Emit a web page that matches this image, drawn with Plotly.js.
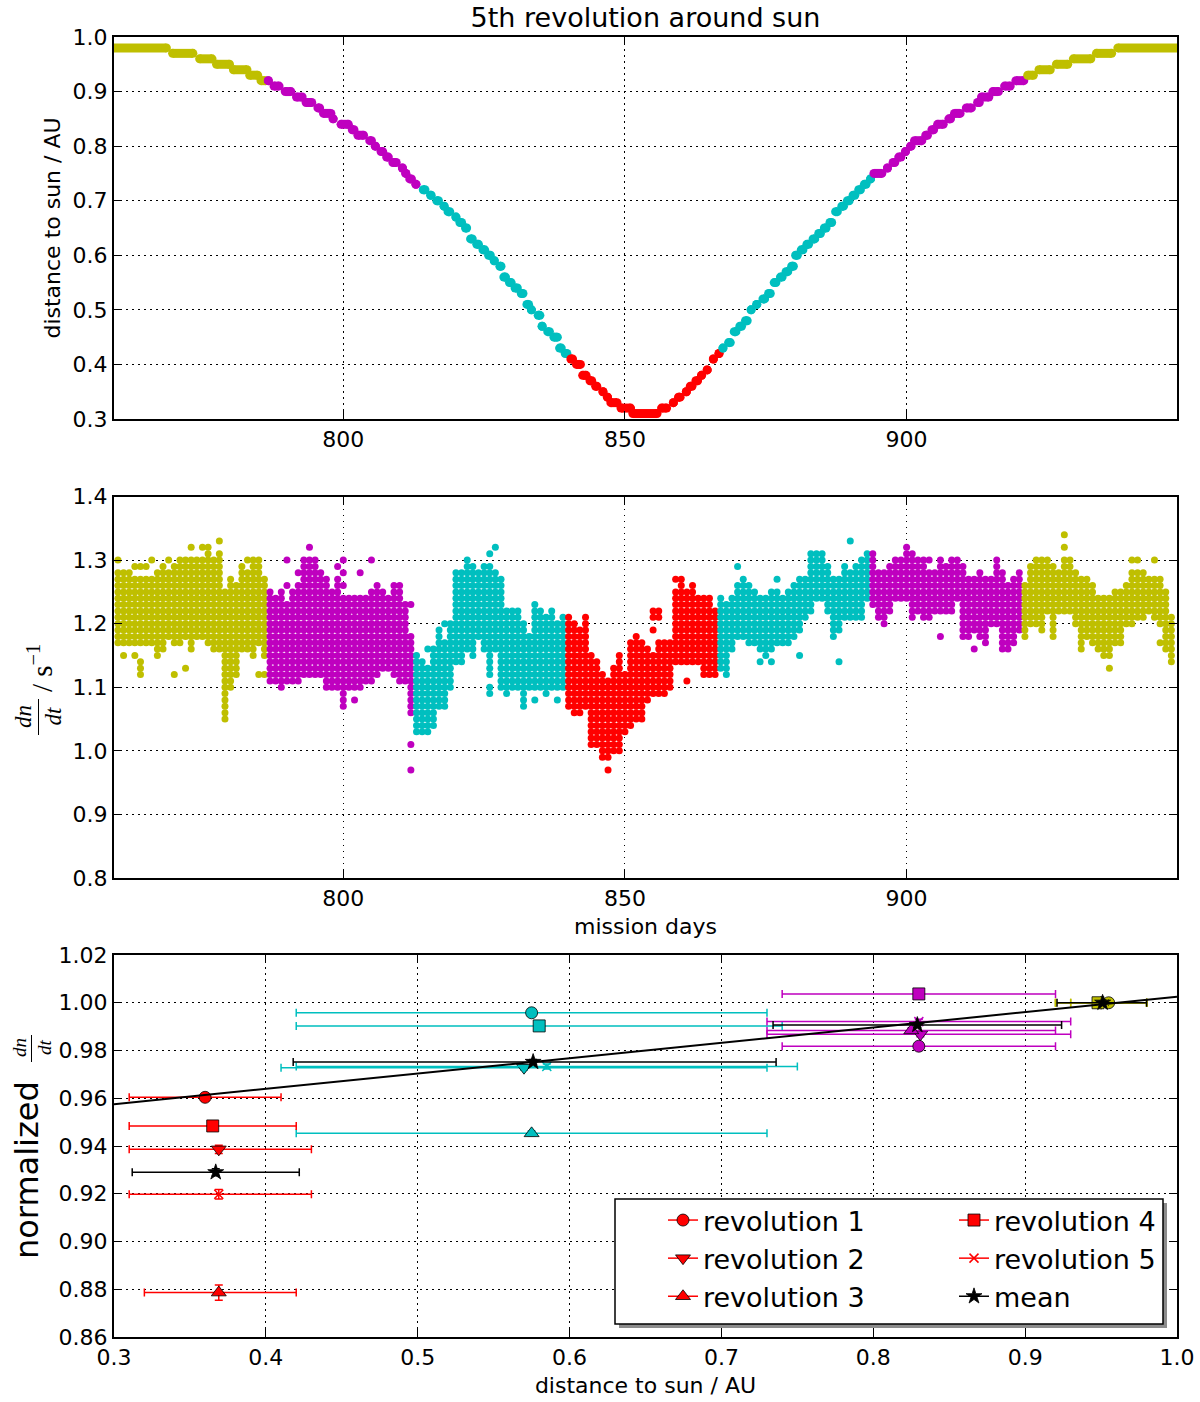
<!DOCTYPE html>
<html>
<head>
<meta charset="utf-8">
<script src="https://cdn.plot.ly/plotly-3.0.1.min.js"></script>
<style>
    body { margin: 0; background: #ffffff; }
    #chartDiv { width: 1200px; height: 1402px; }
</style>
</head>
<body>
<div id="chartDiv"></div>
<script>
"use strict";

// colour segments along the orbit (mission days where the colour changes)
const segmentBounds = [786.4, 813.0, 839.9, 866.9, 894.0, 920.9];
const segmentColors = ['#bfbf00', '#bf00bf', '#00bfbf', '#ff0000', '#00bfbf', '#bf00bf', '#bfbf00'];

// top panel: distance to sun, read as flat steps (level, first day, last day)
const stepDist = [0.98, 0.97, 0.96, 0.95, 0.94, 0.93, 0.92, 0.92, 0.91, 0.90, 0.89, 0.88, 0.87, 0.86, 0.85, 0.84, 0.83, 0.82, 0.81, 0.80,
    0.79, 0.78, 0.77, 0.76, 0.75, 0.74, 0.73, 0.72, 0.71, 0.70, 0.69, 0.68, 0.67, 0.66, 0.65, 0.63, 0.62, 0.61, 0.60, 0.59,
    0.58, 0.56, 0.55, 0.54, 0.53, 0.51, 0.50, 0.49, 0.47, 0.46, 0.45, 0.43, 0.42, 0.41, 0.40, 0.38, 0.37, 0.36, 0.35, 0.34,
    0.33, 0.32, 0.31, 0.32, 0.33, 0.34, 0.35, 0.36, 0.37, 0.38, 0.39, 0.41, 0.42, 0.43, 0.44, 0.46, 0.47, 0.48, 0.50, 0.51,
    0.52, 0.53, 0.55, 0.56, 0.57, 0.58, 0.60, 0.61, 0.62, 0.63, 0.64, 0.65, 0.66, 0.68, 0.69, 0.70, 0.71, 0.72, 0.73, 0.74,
    0.75, 0.76, 0.77, 0.78, 0.79, 0.80, 0.81, 0.82, 0.83, 0.84, 0.85, 0.86, 0.87, 0.88, 0.89, 0.90, 0.91, 0.92, 0.93, 0.94,
    0.95, 0.96, 0.97, 0.98];
const stepFrom = [758.5, 769.7, 774.5, 777.5, 780.5, 783.4, 785.4, 786.7, 787.7, 789.7, 791.7, 793.4, 795.5, 796.5, 798.2, 799.6, 801.6, 802.6, 804.7, 805.7,
    806.7, 807.7, 808.8, 810.5, 811.1, 811.8, 812.9, 814.2, 815.5, 816.6, 817.9, 818.6, 820.0, 820.7, 821.7, 822.6, 823.7, 824.8, 825.8, 826.8,
    827.8, 828.5, 829.5, 830.5, 831.6, 832.6, 833.4, 834.6, 835.3, 836.3, 837.4, 838.4, 839.4, 840.4, 841.4, 842.5, 843.8, 844.8, 846.1, 846.9,
    847.5, 849.3, 851.4, 856.5, 858.6, 859.5, 860.9, 861.6, 862.6, 863.6, 864.6, 865.7, 866.7, 867.4, 868.4, 869.4, 870.4, 871.4, 872.4, 873.4,
    874.5, 875.5, 876.5, 877.6, 878.6, 879.6, 880.3, 881.3, 882.3, 883.4, 884.4, 885.4, 886.4, 887.4, 888.5, 889.5, 890.5, 891.5, 892.5, 893.6,
    894.2, 896.6, 897.6, 898.6, 899.8, 900.7, 901.4, 903.4, 904.5, 905.5, 907.5, 908.5, 910.6, 912.6, 913.3, 915.3, 917.4, 919.4, 921.5, 923.5,
    926.6, 929.6, 933.7, 937.5];
const stepTo = [768.6, 773.3, 776.7, 779.8, 782.9, 784.8, 786.2, 786.7, 788.6, 790.7, 792.7, 794.4, 795.8, 797.8, 798.2, 800.9, 801.9, 803.6, 805.0, 805.7,
    807.0, 808.0, 809.4, 810.5, 811.1, 812.1, 812.9, 814.5, 815.6, 816.9, 817.9, 818.9, 820.0, 821.0, 821.9, 822.9, 824.0, 825.1, 826.1, 826.8,
    828.0, 828.8, 829.8, 830.9, 831.9, 832.9, 833.4, 834.9, 835.3, 836.6, 838.0, 838.7, 839.7, 840.7, 842.1, 843.1, 844.1, 845.0, 846.1, 846.9,
    848.6, 851.0, 855.7, 857.4, 858.6, 859.8, 860.9, 861.9, 862.9, 863.6, 864.6, 865.7, 866.7, 867.4, 868.7, 869.7, 870.7, 871.7, 872.4, 873.4,
    874.8, 875.8, 876.8, 877.9, 878.9, 879.9, 880.6, 881.6, 882.6, 883.7, 884.7, 885.7, 886.7, 887.7, 888.8, 889.8, 890.8, 891.8, 892.8, 893.6,
    895.6, 896.6, 897.9, 899.0, 899.8, 900.8, 902.7, 903.7, 904.8, 906.5, 907.8, 909.5, 911.5, 912.9, 914.6, 916.3, 918.4, 920.8, 922.5, 925.5,
    928.6, 932.7, 936.4, 949.0];

// middle panel: count rate dn/dt, levels seen on each mission day (in 0.01 s^-1)
const rateDays = [760, 761, 762, 763, 764, 765, 766, 767, 768, 769, 770, 771, 772, 773, 774, 775, 776, 777, 778, 779,
    780, 781, 782, 783, 784, 785, 786, 787, 788, 789, 790, 791, 792, 793, 794, 795, 796, 797, 798, 799,
    800, 801, 802, 803, 804, 805, 806, 807, 808, 809, 810, 811, 812, 813, 814, 815, 816, 817, 818, 819,
    820, 821, 822, 823, 824, 825, 826, 827, 828, 829, 830, 831, 832, 833, 834, 835, 836, 837, 838, 839,
    840, 841, 842, 843, 844, 845, 846, 847, 848, 849, 850, 851, 852, 853, 854, 855, 856, 857, 858, 859,
    860, 861, 862, 863, 864, 865, 866, 867, 868, 869, 870, 871, 872, 873, 874, 875, 876, 877, 878, 879,
    880, 881, 882, 883, 884, 885, 886, 887, 888, 889, 890, 891, 892, 893, 894, 895, 896, 897, 898, 899,
    900, 901, 902, 903, 904, 905, 906, 907, 908, 909, 910, 911, 912, 913, 914, 915, 916, 917, 918, 919,
    920, 921, 922, 923, 924, 925, 926, 927, 928, 929, 930, 931, 932, 933, 934, 935, 936, 937, 938, 939,
    940, 941, 942, 943, 944, 945, 946, 947];
const rateLevels = [
    [117, 118, 119, 120, 121, 122, 123, 124, 125, 126, 127, 128, 130],
    [115, 117, 118, 119, 120, 121, 122, 123, 124, 125, 126, 127, 128],
    [117, 118, 119, 120, 121, 122, 123, 124, 125, 126, 127, 128],
    [115, 117, 118, 119, 120, 121, 122, 123, 124, 125, 126, 127, 129],
    [112, 113, 114, 117, 118, 119, 120, 121, 122, 123, 124, 125, 126, 127, 129],
    [117, 118, 119, 120, 121, 122, 123, 124, 125, 126, 127, 129],
    [117, 118, 119, 120, 121, 122, 123, 124, 125, 126, 127, 130],
    [115, 116, 117, 118, 119, 120, 121, 122, 123, 124, 125, 126, 127, 128],
    [116, 117, 118, 119, 120, 121, 122, 123, 124, 125, 126, 127, 128, 129],
    [118, 119, 120, 121, 122, 123, 124, 125, 126, 127, 128, 130],
    [112, 117, 118, 119, 120, 121, 122, 123, 124, 125, 126, 127, 128, 129],
    [117, 118, 119, 120, 121, 122, 123, 124, 125, 126, 127, 128, 129, 130],
    [113, 118, 119, 120, 121, 122, 123, 124, 125, 126, 127, 128, 129, 130],
    [116, 117, 118, 119, 120, 121, 122, 123, 124, 125, 126, 127, 128, 129, 130, 132],
    [118, 119, 120, 121, 122, 123, 124, 125, 126, 127, 128, 129, 130],
    [118, 119, 120, 121, 122, 123, 124, 125, 126, 127, 128, 129, 130, 132],
    [117, 118, 119, 120, 121, 122, 123, 124, 125, 126, 127, 128, 129, 130, 131, 132],
    [116, 117, 118, 119, 120, 121, 122, 123, 124, 125, 126, 127, 128, 129, 130],
    [116, 117, 118, 119, 120, 121, 122, 123, 124, 125, 126, 127, 128, 129, 130, 131, 133],
    [105, 106, 107, 108, 109, 110, 111, 112, 113, 114, 115, 116, 117, 118, 119, 120, 121, 122, 123, 124, 125],
    [110, 111, 112, 113, 114, 115, 116, 117, 118, 119, 120, 121, 122, 123, 124, 125, 126, 127],
    [112, 113, 114, 115, 116, 117, 118, 119, 120, 121, 122, 123, 124, 125, 126],
    [116, 117, 118, 119, 120, 121, 122, 123, 124, 125, 126, 127, 128, 129],
    [116, 117, 118, 119, 120, 121, 122, 123, 124, 125, 126, 127, 128, 130],
    [115, 116, 117, 118, 119, 120, 121, 122, 123, 124, 125, 126, 127, 128, 129, 130],
    [112, 117, 118, 119, 120, 121, 122, 123, 124, 125, 126, 127, 128, 129, 130],
    [112, 115, 116, 117, 118, 119, 120, 121, 122, 123, 124, 125, 126, 127],
    [111, 112, 113, 114, 115, 116, 117, 118, 119, 120, 121, 122, 123, 124, 125],
    [111, 112, 113, 114, 115, 116, 117, 118, 119, 120, 121, 122, 123, 124],
    [110, 111, 112, 113, 114, 115, 116, 117, 118, 119, 120, 121, 122, 123, 124, 125],
    [111, 112, 113, 114, 115, 116, 117, 118, 119, 120, 121, 122, 123, 126, 130],
    [111, 112, 113, 114, 115, 116, 117, 118, 119, 120, 121, 122, 123, 124, 125],
    [111, 112, 113, 114, 115, 116, 117, 118, 119, 120, 121, 122, 123, 124, 125, 126, 128],
    [112, 113, 114, 115, 116, 117, 118, 119, 120, 121, 122, 123, 124, 125, 126, 127, 128, 129, 130],
    [112, 113, 114, 115, 116, 117, 118, 119, 120, 121, 122, 123, 124, 125, 126, 127, 128, 129, 130, 132],
    [112, 113, 114, 115, 116, 117, 118, 119, 120, 121, 122, 123, 124, 125, 126, 127, 128, 129, 130],
    [112, 113, 114, 115, 116, 117, 118, 119, 120, 121, 122, 123, 124, 125, 126, 127, 128],
    [110, 111, 112, 113, 114, 115, 116, 117, 118, 119, 120, 121, 122, 123, 124, 125, 126, 127],
    [110, 111, 112, 113, 114, 115, 116, 117, 118, 119, 120, 121, 122, 123, 124, 125],
    [110, 111, 112, 113, 114, 115, 116, 117, 118, 119, 120, 121, 122, 123, 124, 125, 126, 127, 129],
    [107, 108, 109, 110, 111, 112, 113, 114, 115, 116, 117, 118, 119, 120, 121, 122, 123, 124, 126, 128, 130],
    [110, 111, 112, 113, 114, 115, 116, 117, 118, 119, 120, 121, 122, 123, 124],
    [108, 110, 111, 112, 113, 114, 115, 116, 117, 118, 119, 120, 121, 122, 123, 124],
    [110, 111, 112, 113, 114, 115, 116, 117, 118, 119, 120, 121, 122, 123, 124, 128],
    [111, 112, 113, 114, 115, 116, 117, 118, 119, 120, 121, 122, 123, 124],
    [111, 112, 113, 114, 115, 116, 117, 118, 119, 120, 121, 122, 123, 124, 125, 130],
    [112, 113, 114, 115, 116, 117, 118, 119, 120, 121, 122, 123, 124, 125, 126],
    [113, 114, 115, 116, 117, 118, 119, 120, 121, 122, 123, 124, 125],
    [113, 114, 115, 116, 117, 118, 119, 120, 121, 122, 123, 124],
    [112, 113, 114, 115, 116, 117, 118, 119, 120, 121, 122, 123, 124, 125, 126],
    [111, 112, 113, 114, 115, 116, 117, 118, 119, 120, 121, 122, 123, 124, 125, 126],
    [111, 112, 113, 114, 115, 116, 117, 118, 119, 120, 121, 122, 123],
    [97, 101, 106, 107, 108, 109, 110, 111, 112, 113, 114, 115, 116, 117, 118, 123],
    [103, 104, 105, 106, 107, 108, 109, 110, 111, 112, 113, 114, 115],
    [103, 104, 105, 106, 107, 108, 109, 110, 111, 112, 113, 114],
    [103, 104, 105, 106, 107, 108, 109, 110, 111, 112, 113, 116],
    [104, 105, 106, 107, 108, 109, 110, 111, 112, 113, 114, 115, 116],
    [107, 108, 109, 110, 111, 112, 113, 114, 115, 116, 117, 118, 119],
    [107, 108, 109, 110, 111, 112, 113, 114, 115, 116, 117, 120],
    [110, 111, 112, 113, 114, 115, 116, 117, 118, 119, 120],
    [114, 115, 116, 117, 118, 119, 120, 121, 122, 123, 124, 125, 126, 127, 128],
    [114, 115, 116, 117, 118, 119, 120, 121, 122, 123, 124, 125, 126, 127, 128],
    [116, 117, 118, 119, 120, 121, 122, 123, 124, 125, 126, 127, 128, 129, 130],
    [115, 116, 117, 118, 119, 120, 121, 122, 123, 124, 125, 126, 127, 128, 129],
    [118, 119, 120, 121, 122, 123, 124, 125, 126, 127, 128],
    [116, 117, 118, 119, 120, 121, 122, 123, 124, 125, 126, 127, 128, 129],
    [109, 110, 112, 113, 114, 115, 116, 117, 118, 119, 120, 121, 122, 123, 124, 125, 126, 127, 128, 129, 131],
    [116, 117, 118, 119, 120, 121, 122, 123, 124, 125, 126, 127, 128, 132],
    [110, 111, 112, 113, 114, 115, 116, 117, 118, 119, 120, 121, 122, 123, 124, 125, 126, 127],
    [109, 110, 111, 112, 113, 114, 115, 116, 117, 118, 119, 120, 121, 122],
    [110, 111, 112, 113, 114, 115, 116, 117, 118, 119, 120, 121, 122],
    [110, 111, 112, 113, 114, 115, 116, 117, 118, 119, 120, 121, 122],
    [107, 108, 109, 110, 111, 112, 113, 114, 115, 116, 117, 118, 119, 120],
    [110, 111, 112, 113, 114, 115, 116, 117, 118],
    [108, 110, 111, 112, 113, 114, 115, 116, 117, 118, 119, 120, 121, 122, 123],
    [110, 111, 112, 113, 114, 115, 116, 117, 118, 119, 120, 121, 122],
    [109, 110, 111, 112, 113, 114, 115, 116, 117, 118, 119, 120, 121],
    [110, 111, 112, 113, 114, 115, 116, 117, 118, 119, 120, 121, 122],
    [108, 110, 111, 112, 113, 114, 115, 116, 117, 118, 119, 120],
    [110, 111, 112, 113, 114, 115, 116, 117, 118, 119, 120, 121],
    [107, 108, 109, 110, 111, 112, 113, 114, 115, 116, 117, 118, 119, 120, 121],
    [106, 107, 108, 109, 110, 111, 112, 113, 114, 115, 116, 117, 118, 119, 120],
    [106, 107, 108, 109, 110, 111, 112, 113, 114, 115, 116, 117, 118, 119],
    [107, 108, 109, 110, 111, 112, 113, 114, 115, 116, 117, 118, 119, 120, 121],
    [101, 102, 103, 104, 105, 106, 107, 108, 109, 110, 111, 112, 113, 114, 115],
    [101, 102, 103, 104, 105, 106, 107, 108, 109, 110, 111, 112, 113, 114],
    [99, 100, 101, 102, 103, 104, 105, 106, 107, 108, 109, 110, 111, 112],
    [97, 99, 100, 101, 102, 103, 104, 105, 106, 107, 108, 109, 110, 111],
    [100, 101, 102, 103, 104, 105, 106, 107, 108, 109, 110, 111, 112, 113],
    [100, 101, 102, 103, 104, 105, 106, 107, 108, 109, 110, 111, 112, 113, 114, 115],
    [103, 104, 105, 106, 107, 108, 109, 110, 111, 112],
    [104, 105, 106, 107, 108, 109, 110, 111, 112, 113, 114, 115, 116, 117],
    [105, 106, 107, 108, 109, 110, 111, 112, 113, 114, 115, 116, 117, 118],
    [105, 106, 107, 108, 109, 110, 111, 112, 113, 114, 115, 116, 117],
    [108, 109, 110, 111, 112, 113, 114, 115, 116],
    [109, 110, 111, 112, 113, 114, 115, 119, 121, 122],
    [109, 110, 111, 112, 113, 114, 115, 116, 117, 121, 122],
    [109, 110, 111, 112, 113, 114, 115, 116, 117],
    [110, 111, 112, 113, 114, 115, 116, 117],
    [114, 115, 116, 117, 118, 119, 120, 121, 122, 123, 124, 125, 127],
    [114, 115, 116, 117, 118, 119, 120, 121, 122, 123, 124, 125, 126, 127],
    [111, 114, 115, 116, 117, 118, 119, 120, 121, 122, 123, 124, 125],
    [114, 115, 116, 117, 118, 119, 120, 121, 122, 123, 124, 125, 126],
    [114, 115, 116, 117, 118, 119, 120, 121, 122, 123, 124],
    [112, 113, 114, 115, 116, 117, 118, 119, 120, 121, 122, 123, 124],
    [112, 113, 114, 115, 116, 117, 118, 119, 120, 121, 122, 123, 124],
    [112, 113, 114, 115, 116, 117, 118, 119, 120, 121, 122],
    [113, 114, 115, 116, 117, 118, 119, 120, 121, 122, 123, 124],
    [112, 113, 114, 115, 116, 117, 118, 119, 120, 121, 122, 123],
    [116, 117, 118, 119, 120, 121, 122, 123, 124],
    [118, 119, 120, 121, 122, 123, 124, 125, 126, 129],
    [118, 119, 120, 121, 122, 123, 124, 125, 126, 127],
    [117, 118, 119, 120, 121, 122, 123, 124, 125, 126],
    [117, 118, 119, 120, 121, 122, 123, 124, 125],
    [114, 116, 117, 118, 119, 120, 121, 122, 123, 124],
    [115, 116, 117, 118, 119, 120, 121, 122, 123, 124],
    [114, 116, 117, 118, 119, 120, 121, 122, 123, 124, 125],
    [117, 118, 119, 120, 121, 122, 123, 124, 125, 127],
    [117, 118, 119, 120, 121, 122, 123, 124],
    [117, 118, 119, 120, 121, 122, 123, 124, 125],
    [118, 119, 120, 121, 122, 123, 124, 125, 126],
    [115, 119, 120, 121, 122, 123, 124, 125, 126, 127],
    [121, 122, 123, 124, 125, 126, 127],
    [122, 123, 124, 125, 126, 127, 128, 129, 130, 131],
    [124, 125, 126, 127, 128, 129, 130, 131],
    [124, 125, 126, 127, 128, 129, 130, 131],
    [122, 123, 124, 125, 126, 127, 128, 129],
    [118, 119, 120, 121, 122, 123, 124, 125, 126, 127],
    [114, 119, 120, 121, 122, 123, 124, 125, 126, 127],
    [121, 122, 123, 124, 125, 126, 127, 128, 129],
    [121, 122, 123, 124, 125, 126, 127, 128, 133],
    [121, 122, 123, 124, 125, 126, 127, 128, 129],
    [121, 122, 123, 124, 125, 126, 127, 128, 129, 130],
    [124, 125, 126, 127, 128, 129, 130, 131],
    [123, 124, 125, 126, 127, 128, 129, 130, 131],
    [121, 122, 123, 124, 125, 126, 127, 128],
    [120, 121, 122, 123, 124, 125, 126, 127, 128],
    [122, 123, 124, 125, 126, 127, 128, 129],
    [124, 125, 126, 127, 128, 129, 130],
    [124, 125, 126, 127, 128, 129, 130],
    [124, 125, 126, 127, 128, 129, 130, 131, 132],
    [121, 122, 123, 124, 125, 126, 127, 128, 129, 130, 131],
    [122, 123, 124, 125, 126, 127, 128, 129, 130],
    [121, 122, 123, 124, 125, 126, 127, 128, 129, 130],
    [121, 122, 123, 124, 125, 126, 127, 128, 130],
    [122, 123, 124, 125, 126, 127, 128],
    [118, 122, 123, 124, 125, 126, 127, 128, 129, 130],
    [122, 123, 124, 125, 126, 127, 128, 129],
    [122, 123, 124, 125, 126, 127, 128, 129, 130],
    [124, 125, 126, 127, 128, 129, 130],
    [118, 119, 120, 121, 122, 123, 124, 125, 126, 127, 128, 129],
    [118, 119, 120, 121, 122, 123, 124, 125, 126, 127],
    [116, 119, 120, 121, 122, 123, 124, 125, 126, 127],
    [118, 119, 120, 121, 122, 123, 124, 125, 126, 127, 128],
    [117, 118, 119, 120, 121, 122, 123, 124, 125, 126, 127],
    [120, 121, 122, 123, 124, 125, 126, 127],
    [120, 121, 122, 123, 124, 125, 126, 127, 128, 129, 130],
    [116, 117, 118, 119, 120, 121, 122, 123, 124, 125, 126, 127, 128],
    [116, 117, 118, 119, 120, 121, 122, 123, 124, 125, 126],
    [117, 118, 119, 120, 121, 122, 123, 124, 125, 126, 127],
    [119, 120, 121, 122, 123, 124, 125, 126, 127, 128],
    [118, 119, 120, 121, 122, 123, 124, 125, 126],
    [120, 121, 122, 123, 124, 125, 126, 127, 128, 129],
    [120, 121, 122, 123, 124, 125, 126, 127, 128, 129, 130],
    [119, 120, 121, 122, 123, 124, 125, 126, 127, 128, 129, 130],
    [122, 123, 124, 125, 126, 127, 128, 129, 130],
    [118, 119, 120, 121, 122, 123, 124, 125, 126, 127, 128, 129],
    [122, 123, 124, 125, 126, 127, 128],
    [122, 123, 124, 125, 126, 127, 128, 129, 130, 132, 134],
    [122, 123, 124, 125, 126, 127, 128, 129, 130],
    [120, 121, 122, 123, 124, 125, 126, 127, 128],
    [116, 117, 118, 119, 120, 121, 122, 123, 124, 125, 126, 127],
    [118, 119, 120, 121, 122, 123, 124, 125, 126, 127],
    [117, 118, 119, 120, 121, 122, 123, 124, 125, 126],
    [116, 117, 118, 119, 120, 121, 122, 123, 124],
    [115, 116, 117, 118, 119, 120, 121, 122, 123, 124],
    [113, 115, 116, 117, 118, 119, 120, 121, 122, 123, 124],
    [117, 118, 119, 120, 121, 122, 123, 124, 125],
    [117, 118, 119, 120, 121, 122, 123, 124, 125],
    [120, 121, 122, 123, 124, 125, 126],
    [120, 121, 122, 123, 124, 125, 126, 127, 128, 130],
    [121, 122, 123, 124, 125, 126, 127, 128, 130],
    [121, 122, 123, 124, 125, 126, 127, 128],
    [122, 123, 124, 125, 126, 127],
    [121, 122, 123, 124, 125, 126, 127, 130],
    [117, 120, 121, 122, 123, 124, 125, 126, 127],
    [116, 117, 118, 119, 120, 121, 122, 123, 124, 125],
    [114, 115, 116, 117, 118, 119, 120, 121]
];

// bottom panel: normalized rate per distance bin (red, cyan, magenta, yellow bins)
const binColors = ['#ff0000', '#00bfbf', '#bf00bf', '#bfbf00'];
const revNames = ['revolution 1', 'revolution 2', 'revolution 3', 'revolution 4', 'revolution 5', 'mean'];
const revSymbols = ['circle', 'triangle-down', 'triangle-up', 'square', 'x-thin', 'star'];
const revDistance = [
    [0.360, 0.575, 0.830, 0.955],
    [0.369, 0.570, 0.831, 0.950],
    [0.369, 0.575, 0.825, 0.950],
    [0.365, 0.580, 0.830, 0.948],
    [0.369, 0.585, 0.830, 0.952],
    [0.367, 0.576, 0.829, 0.951]
];
const revDistanceLow = [
    [0.31, 0.42, 0.74, 0.92],
    [0.31, 0.41, 0.73, 0.93],
    [0.32, 0.42, 0.73, 0.92],
    [0.31, 0.42, 0.74, 0.92],
    [0.31, 0.42, 0.73, 0.93],
    [0.312, 0.418, 0.734, 0.921]
];
const revDistanceHigh = [
    [0.41, 0.73, 0.92, 0.98],
    [0.43, 0.73, 0.93, 0.98],
    [0.42, 0.73, 0.92, 0.98],
    [0.42, 0.74, 0.92, 0.98],
    [0.43, 0.75, 0.93, 0.98],
    [0.422, 0.736, 0.924, 0.980]
];
const revNormalized = [
    [0.9604, 0.9958, 0.9818, 1.0000],
    [0.9386, 0.9728, 0.9868, 1.0000],
    [0.8786, 0.9453, 0.9884, 1.0000],
    [0.9484, 0.9903, 1.0037, 1.0000],
    [0.9198, 0.9733, 0.9921, 1.0000],
    [0.9290, 0.9752, 0.9907, 1.0000]
];
const revNormalizedErr = [
    [0.0010, 0.0008, 0.0008, 0.0006],
    [0.0017, 0.0010, 0.0010, 0.0006],
    [0.0032, 0.0010, 0.0010, 0.0006],
    [0.0012, 0.0008, 0.0008, 0.0006],
    [0.0020, 0.0010, 0.0010, 0.0006],
    [0.0015, 0.0010, 0.0010, 0.0006]
];
// linear fit drawn across the panel
const fitDistance = [0.3, 1.0];
const fitNormalized = [0.9575, 1.0025];

// tick labels
const dayTicks = [800, 850, 900];
const distanceTicks = [0.3, 0.4, 0.5, 0.6, 0.7, 0.8, 0.9, 1.0];
const rateTicks = [0.8, 0.9, 1.0, 1.1, 1.2, 1.3, 1.4];
const normTicks = [0.86, 0.88, 0.90, 0.92, 0.94, 0.96, 0.98, 1.00, 1.02];

const plotLeft = 114, plotTop = 37, plotWidth = 1063, plotHeight = 1300;
function paperX(px) { return (px - plotLeft) / plotWidth; }
function paperY(py) { return (plotTop + plotHeight - py) / plotHeight; }

function segmentOf(day) {
    var i = 0;
    while (i < segmentBounds.length && day >= segmentBounds[i]) { i++; }
    return i;
}

function markerSize(symbol) {
    if (symbol === 'x-thin') { return 9; }
    if (symbol === 'star') { return 12; }
    if (symbol.indexOf('triangle') === 0) { return 13; }
    return 12;
}

var traces = [];

// top panel
segmentColors.forEach(function (color, segment) {
    var x = [], y = [];
    for (var i = 0; i < stepDist.length; i++) {
        if (segmentOf((stepFrom[i] + stepTo[i]) / 2) !== segment) { continue; }
        x.push(stepFrom[i], stepTo[i], null);
        y.push(stepDist[i], stepDist[i], null);
    }
    traces.push({
        x: x, y: y, xaxis: 'x', yaxis: 'y', type: 'scatter', mode: 'lines+markers',
        line: { color: color, width: 9 }, marker: { color: color, size: 9 },
        showlegend: false, hoverinfo: 'skip'
    });
});

// middle panel
segmentColors.forEach(function (color, segment) {
    var x = [], y = [];
    for (var i = 0; i < rateDays.length; i++) {
        if (segmentOf(rateDays[i]) !== segment) { continue; }
        rateLevels[i].forEach(function (level) {
            x.push(rateDays[i]);
            y.push(level / 100);
        });
    }
    traces.push({
        x: x, y: y, xaxis: 'x2', yaxis: 'y2', type: 'scatter', mode: 'markers',
        marker: { color: color, size: 7 }, showlegend: false, hoverinfo: 'skip'
    });
});

// bottom panel
revNames.forEach(function (name, r) {
    var isMean = (r === revNames.length - 1);
    var isCross = (revSymbols[r] === 'x-thin');
    binColors.forEach(function (binColor, b) {
        var color = isMean ? '#000000' : binColor;
        traces.push({
            x: [revDistance[r][b]], y: [revNormalized[r][b]], xaxis: 'x3', yaxis: 'y3',
            type: 'scatter', mode: 'markers',
            error_x: {
                type: 'data', symmetric: false,
                array: [revDistanceHigh[r][b] - revDistance[r][b]],
                arrayminus: [revDistance[r][b] - revDistanceLow[r][b]],
                color: color, thickness: 1.5, width: 4
            },
            error_y: { type: 'data', array: [revNormalizedErr[r][b]], color: color, thickness: 1.5, width: 4 },
            marker: {
                symbol: revSymbols[r], size: markerSize(revSymbols[r]), color: color,
                line: { color: isCross ? color : '#000000', width: isCross ? 1.5 : 0.8 }
            },
            showlegend: false, hoverinfo: 'skip'
        });
    });
});

traces.push({
    x: fitDistance, y: fitNormalized, xaxis: 'x3', yaxis: 'y3', type: 'scatter', mode: 'lines',
    line: { color: '#000000', width: 2 }, showlegend: false, hoverinfo: 'skip'
});

// legend entries (drawn red like the first bin)
revNames.forEach(function (name, r) {
    var isMean = (r === revNames.length - 1);
    var isCross = (revSymbols[r] === 'x-thin');
    var color = isMean ? '#000000' : '#ff0000';
    traces.push({
        x: [null], y: [null], xaxis: 'x3', yaxis: 'y3', type: 'scatter', mode: 'lines+markers',
        name: name, legend: r < 3 ? 'legend' : 'legend2',
        line: { color: color, width: 1.5 },
        marker: {
            symbol: revSymbols[r], size: markerSize(revSymbols[r]), color: color,
            line: { color: isCross ? color : '#000000', width: isCross ? 1.5 : 0.8 }
        },
        showlegend: true, hoverinfo: 'skip'
    });
});

function axisStyle(extra) {
    return Object.assign({
        showline: true, linecolor: '#000000', linewidth: 2, mirror: 'ticks',
        ticks: 'inside', ticklen: 8, tickwidth: 1, tickcolor: '#000000',
        showgrid: true, gridcolor: '#000000', gridwidth: 1, griddash: '1.5px,4.5px',
        zeroline: false, fixedrange: true, automargin: false,
        tickfont: { family: 'DejaVu Sans', size: 22, color: '#000000' }
    }, extra);
}

var legendFont = { family: 'DejaVu Sans', size: 27, color: '#000000' };

var layout = {
    width: 1200, height: 1402,
    margin: { l: plotLeft, r: 1200 - plotLeft - plotWidth, t: plotTop, b: 1402 - plotTop - plotHeight },
    paper_bgcolor: '#ffffff', plot_bgcolor: '#ffffff',
    font: { family: 'DejaVu Sans', size: 22, color: '#000000' },
    hovermode: false,
    title: {
        text: '5th revolution around sun', font: { family: 'DejaVu Sans', size: 27, color: '#000000' },
        x: 0.5, xref: 'paper', xanchor: 'center', y: 1 - 18 / 1402, yref: 'container', yanchor: 'middle'
    },
    xaxis: axisStyle({
        domain: [0, 1], anchor: 'y', range: [759.3, 948],
        tickvals: dayTicks, ticktext: dayTicks.map(String)
    }),
    yaxis: axisStyle({
        domain: [paperY(419), 1], anchor: 'x', range: [0.3, 1.0],
        tickvals: distanceTicks, ticktext: distanceTicks.map(function (v) { return v.toFixed(1); }),
        title: { text: 'distance to sun / AU', font: { size: 22 }, standoff: 6 }
    }),
    xaxis2: axisStyle({
        domain: [0, 1], anchor: 'y2', range: [759.3, 948],
        tickvals: dayTicks, ticktext: dayTicks.map(String),
        title: { text: 'mission days', font: { size: 22 }, standoff: 8 }
    }),
    yaxis2: axisStyle({
        domain: [paperY(878), paperY(496.5)], anchor: 'x2', range: [0.8, 1.4],
        tickvals: rateTicks, ticktext: rateTicks.map(function (v) { return v.toFixed(1); })
    }),
    xaxis3: axisStyle({
        domain: [0, 1], anchor: 'y3', range: [0.3, 1.0],
        tickvals: distanceTicks, ticktext: distanceTicks.map(function (v) { return v.toFixed(1); }),
        title: { text: 'distance to sun / AU', font: { size: 22 }, standoff: 8 }
    }),
    yaxis3: axisStyle({
        domain: [0, paperY(955)], anchor: 'x3', range: [0.86, 1.02],
        tickvals: normTicks, ticktext: normTicks.map(function (v) { return v.toFixed(2); })
    }),
    legend: {
        x: paperX(663), xanchor: 'left', y: paperY(1196), yanchor: 'top',
        bgcolor: 'rgba(0,0,0,0)', borderwidth: 0, orientation: 'v', traceorder: 'normal',
        font: legendFont
    },
    legend2: {
        x: paperX(954), xanchor: 'left', y: paperY(1196), yanchor: 'top',
        bgcolor: 'rgba(0,0,0,0)', borderwidth: 0, orientation: 'v', traceorder: 'normal',
        font: legendFont
    },
    shapes: [
        // legend shadow and frame
        {
            type: 'rect', xref: 'paper', yref: 'paper', layer: 'above',
            x0: paperX(619), x1: paperX(1167), y0: paperY(1328), y1: paperY(1203),
            fillcolor: '#8c8c8c', line: { width: 0 }
        },
        {
            type: 'rect', xref: 'paper', yref: 'paper', layer: 'above',
            x0: paperX(615), x1: paperX(1163), y0: paperY(1324), y1: paperY(1199),
            fillcolor: '#ffffff', line: { color: '#000000', width: 1.5 }
        },
        // fraction bars of the dn/dt labels
        {
            type: 'line', xref: 'paper', yref: 'paper',
            x0: paperX(38.5), x1: paperX(38.5), y0: paperY(735), y1: paperY(699),
            line: { color: '#000000', width: 1 }
        },
        {
            type: 'line', xref: 'paper', yref: 'paper',
            x0: paperX(31.5), x1: paperX(31.5), y0: paperY(1062), y1: paperY(1035),
            line: { color: '#000000', width: 1 }
        }
    ],
    annotations: [
        {
            text: '<i>dn</i><br><i>dt</i>', textangle: -90, showarrow: false,
            xref: 'paper', yref: 'paper', x: paperX(39), y: paperY(717), xanchor: 'center', yanchor: 'middle',
            font: { family: 'Liberation Serif', size: 23, color: '#000000' }
        },
        {
            text: '/ s<sup>−1</sup>', textangle: -90, showarrow: false,
            xref: 'paper', yref: 'paper', x: paperX(40), y: paperY(668), xanchor: 'center', yanchor: 'middle',
            font: { family: 'Liberation Serif', size: 29, color: '#000000' }
        },
        {
            text: 'normalized', textangle: -90, showarrow: false,
            xref: 'paper', yref: 'paper', x: paperX(27), y: paperY(1170), xanchor: 'center', yanchor: 'middle',
            font: { family: 'DejaVu Sans', size: 32, color: '#000000' }
        },
        {
            text: '<i>dn</i><br><i>dt</i>', textangle: -90, showarrow: false,
            xref: 'paper', yref: 'paper', x: paperX(32), y: paperY(1048), xanchor: 'center', yanchor: 'middle',
            font: { family: 'Liberation Serif', size: 19, color: '#000000' }
        }
    ]
};

Plotly.newPlot('chartDiv', traces, layout, { staticPlot: true, displayModeBar: false });
</script>
</body>
</html>
